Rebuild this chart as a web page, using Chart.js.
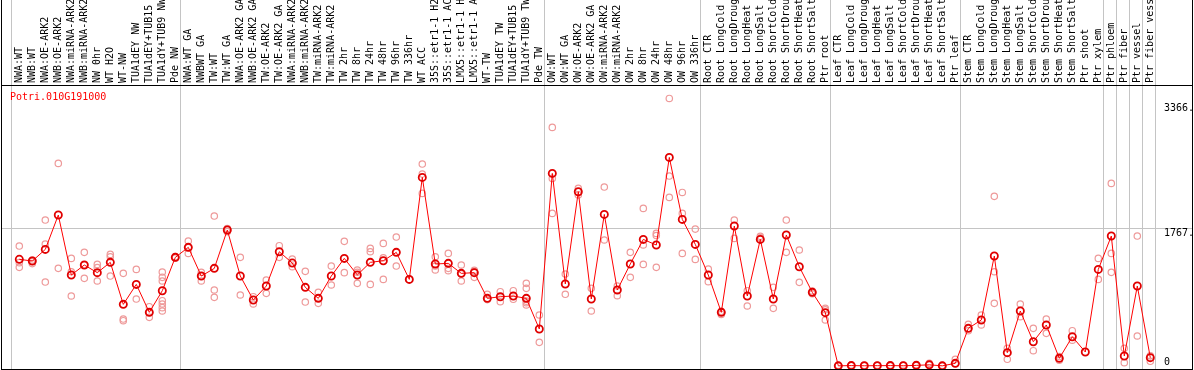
<!DOCTYPE html>
<html><head><meta charset="utf-8">
<script src="https://cdn.jsdelivr.net/npm/chart.js@4.4.1/dist/chart.umd.min.js"></script>
<style>html,body{margin:0;padding:0;background:#fff;overflow:hidden}canvas{display:block}</style>
</head><body>
<canvas id="c" width="1194" height="370"></canvas>
<script>
const categories = [
 'NWA:WT','NWB:WT','NWA:OE-ARK2','NWB:OE-ARK2','NWA:miRNA-ARK2','NWB:miRNA-ARK2','NW 0hr','WT H2O','WT-NW','TUA1dEY NW','TUA1dEY+TUB15','TUA1dY+TUB9 NW','Pde NW',
 'NWA:WT GA','NWBWT GA','TW:WT','TW:WT GA','NWA:OE-ARK2 GA','NWB:OE-ARK2 GA','TW:OE-ARK2','TW:OE-ARK2 GA','NWA:miRNA-ARK2','NWB:miRNA-ARK2','TW:miRNA-ARK2','TW:miRNA-ARK2',
 'TW 2hr','TW 8hr','TW 24hr','TW 48hr','TW 96hr','TW 336hr','WT ACC','35S::etr1-1 H2','35S::etr1-1 AC','LMX5::etr1-1 H','LMX5::etr1-1 A','WT-TW','TUA1dEY TW','TUA1dEY+TUB15','TUA1dY+TUB9 TW','Pde TW',
 'OW:WT','OW:WT GA','OW:OE-ARK2','OW:OE-ARK2 GA','OW:miRNA-ARK2','OW:miRNA-ARK2','OW 2hr','OW 8hr','OW 24hr','OW 48hr','OW 96hr','OW 336hr',
 'Root CTR','Root LongCold','Root LongDroug','Root LongHeat','Root LongSalt','Root ShortCold','Root ShortDrou','Root ShortHeat','Root ShortSalt','Ptr root',
 'Leaf CTR','Leaf LongCold','Leaf LongDroug','Leaf LongHeat','Leaf LongSalt','Leaf ShortCold','Leaf ShortDrou','Leaf ShortHeat','Leaf ShortSalt','Ptr leaf',
 'Stem CTR','Stem LongCold','Stem LongDroug','Stem LongHeat','Stem LongSalt','Stem ShortCold','Stem ShortDrou','Stem ShortHeat','Stem ShortSalt','Ptr shoot','Ptr xylem',
 'Ptr phloem','Ptr fiber','Ptr vessel','Ptr fiber vess'
];
const means = [
 1366,1344,1493,1933,1165,1293,1195,1327,789,1045,687,964,1391,
 1519,1152,1250,1741,1152,845,1024,1463,1318,1007,866,1152,
 1378,1165,1327,1348,1455,1109,2415,1306,1314,1186,1195,866,887,896,866,474,
 2466,1050,2231,858,1941,973,1306,1621,1549,2671,1877,1557,
 1165,687,1792,896,1621,858,1677,1271,943,683,
 2,5,3,4,5,3,8,15,2,34,
 482,589,1408,171,704,311,525,98,375,179,1237,
 1664,128,1024,107
];
const replicates = [
 [1536,1323,1263],[1357,1338,1311],[1869,1562,1075],[2594,1250],[1378,1207,896],[1455,1293,1122],[1301,1259,1088],[1429,1399,1152],[1186,601,580],[1237,857],[759,687,623],[1203,1135,1088,836,794,747,704],[1400,1380],
 [1600,1442,1515],[1199,1152,1088],[1920,973,879],[1760,1720],[1391,909],[887,794],[1101,930],[1540,1391],[1370,1271],[1212,819],[943,802],[1280,1037],
 [1596,1195],[1229,1200,1058],[1506,1463,1045],[1570,1386,1109],[1651,1280],[1109],[2586,2458,2210],[1399,1280,1229],[1442,1250,1220],[1293,1180,1088],[1225,1210,1135],[918,850],[951,823],[964,854],[1058,994,830,810,781],[653,303],
 [3055,2402,1954],[1178,918],[2274,2190],[994,704],[2291,1613],[1024,900],[1455,1135],[2018,1549,1301],[1698,1670,1263],[3426,2432,2159],[2222,1954,1442],[1753,1365],
 [1240,1079],[700,660],[1869,1634],[964,768],[1660,1640],[1007,738],[1869,1455],[1485,1071],[960,925],[738,720,589],
 [10,4],[13,6],[8,2],[10,5],[12,3],[13,4],[16,6],[34,10],[9,2],[86,30],
 [533,452],[653,525],[2172,1207,802],[226,86],[794,631],[482,196],[601,418],[120,75],[452,330],[],[1378,1109],
 [2338,1442,1199],[226,43],[1664,384],[130,60]
];
const groupStarts = [0,13,41,53,63,73,84,85,86,87,88];
const yTicks = [0,1767,3366];
const yTickLabels = ['0','1767.','3366.'];
const gridValues = [1767];
const geneName = 'Potri.010G191000';

const maxReps = Math.max(...replicates.map(r => r.length));
const repDatasets = [];
for (let r = 0; r < maxReps; r++) {
  repDatasets.push({
    label: 'rep' + (r + 1),
    data: replicates.map(a => (a[r] === undefined ? null : a[r])),
    showLine: false,
    pointStyle: 'circle',
    pointRadius: 3.2,
    pointBorderWidth: 1.2,
    pointBorderColor: '#ee9a9a',
    pointBackgroundColor: 'rgba(0,0,0,0)',
    order: 2,
    clip: false
  });
}

const MONO = '10px "DejaVu Sans Mono", monospace';

const decor = {
  id: 'decor',
  beforeDatasetsDraw(chart) {
    const ctx = chart.ctx, xs = chart.scales.x, ys = chart.scales.y;
    ctx.save();
    ctx.strokeStyle = '#c4c4c4';
    ctx.lineWidth = 1;
    ctx.beginPath();
    groupStarts.forEach(k => {
      const x = Math.round(xs.getPixelForValue(k) - 8.3) + 0.5;
      ctx.moveTo(x, 0); ctx.lineTo(x, 369);
    });
    gridValues.forEach(v => {
      const y = Math.round(ys.getPixelForValue(v)) + 0.5;
      ctx.moveTo(1, y); ctx.lineTo(1193, y);
    });
    ctx.stroke();
    ctx.restore();
  },
  afterDraw(chart) {
    const ctx = chart.ctx, xs = chart.scales.x, ys = chart.scales.y;
    ctx.save();
    ctx.strokeStyle = '#000';
    ctx.lineWidth = 1;
    ctx.beginPath();
    ctx.moveTo(1.5, 0); ctx.lineTo(1.5, 370);
    ctx.moveTo(1192.5, 0); ctx.lineTo(1192.5, 370);
    ctx.moveTo(1, 369.5); ctx.lineTo(1193, 369.5);
    ctx.moveTo(1, 85.5); ctx.lineTo(1193, 85.5);
    ctx.stroke();
    ctx.font = MONO;
    ctx.fillStyle = '#000';
    ctx.textAlign = 'left';
    ctx.textBaseline = 'middle';
    categories.forEach((lab, i) => {
      const x = xs.getPixelForValue(i);
      ctx.save();
      ctx.translate(x + 0.5, 83);
      ctx.rotate(-Math.PI / 2);
      ctx.fillText(lab, 0, 0);
      ctx.restore();
    });
    yTicks.forEach((v, i) => {
      const y = ys.getPixelForValue(v);
      ctx.fillText(yTickLabels[i], 1164, v === 0 ? y - 4 : y + 5);
    });
    ctx.fillStyle = '#ff0000';
    ctx.fillText(geneName, 10, 97);
    ctx.restore();
  }
};

new Chart(document.getElementById('c'), {
  type: 'line',
  data: {
    labels: categories,
    datasets: [{
      label: geneName,
      data: means,
      borderColor: '#ff0000',
      borderWidth: 1,
      tension: 0,
      pointStyle: 'circle',
      pointRadius: 3.6,
      pointBorderWidth: 1.8,
      pointBorderColor: '#e00000',
      pointBackgroundColor: 'rgba(0,0,0,0)',
      order: 1,
      clip: false
    }, ...repDatasets]
  },
  options: {
    responsive: false,
    animation: false,
    events: [],
    layout: { autoPadding: false, padding: { left: 12.8, right: 37.2, top: 85, bottom: 1 } },
    plugins: { legend: { display: false }, tooltip: { enabled: false } },
    scales: {
      x: { type: 'category', offset: true, display: false },
      y: { type: 'linear', min: -38.5, max: 3598, display: false }
    }
  },
  plugins: [decor]
});
</script>
</body></html>
